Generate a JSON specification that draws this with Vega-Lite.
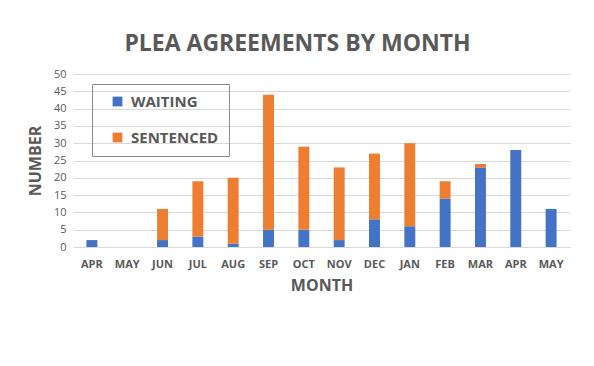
{
  "$schema": "https://vega.github.io/schema/vega-lite/v6.json",
  "width": 497,
  "height": 173,
  "autosize": {"type": "none"},
  "padding": {"left": 73, "top": 74, "right": 24, "bottom": 119},
  "background": "white",
  "title": {
    "text": "PLEA AGREEMENTS BY MONTH",
    "font": "Open Sans",
    "fontSize": 23,
    "fontWeight": "bold",
    "color": "#595959",
    "anchor": "middle",
    "offset": 12,
    "dx": -24
  },
  "data": {
    "values": [
      {"m": "APR-1", "series": "WAITING", "n": 2}, {"m": "APR-1", "series": "SENTENCED", "n": 0},
      {"m": "MAY-1", "series": "WAITING", "n": 0}, {"m": "MAY-1", "series": "SENTENCED", "n": 0},
      {"m": "JUN", "series": "WAITING", "n": 2}, {"m": "JUN", "series": "SENTENCED", "n": 9},
      {"m": "JUL", "series": "WAITING", "n": 3}, {"m": "JUL", "series": "SENTENCED", "n": 16},
      {"m": "AUG", "series": "WAITING", "n": 1}, {"m": "AUG", "series": "SENTENCED", "n": 19},
      {"m": "SEP", "series": "WAITING", "n": 5}, {"m": "SEP", "series": "SENTENCED", "n": 39},
      {"m": "OCT", "series": "WAITING", "n": 5}, {"m": "OCT", "series": "SENTENCED", "n": 24},
      {"m": "NOV", "series": "WAITING", "n": 2}, {"m": "NOV", "series": "SENTENCED", "n": 21},
      {"m": "DEC", "series": "WAITING", "n": 8}, {"m": "DEC", "series": "SENTENCED", "n": 19},
      {"m": "JAN", "series": "WAITING", "n": 6}, {"m": "JAN", "series": "SENTENCED", "n": 24},
      {"m": "FEB", "series": "WAITING", "n": 14}, {"m": "FEB", "series": "SENTENCED", "n": 5},
      {"m": "MAR", "series": "WAITING", "n": 23}, {"m": "MAR", "series": "SENTENCED", "n": 1},
      {"m": "APR-2", "series": "WAITING", "n": 28}, {"m": "APR-2", "series": "SENTENCED", "n": 0},
      {"m": "MAY-2", "series": "WAITING", "n": 11}, {"m": "MAY-2", "series": "SENTENCED", "n": 0}
    ]
  },
  "mark": {"type": "bar"},
  "encoding": {
    "x": {
      "field": "m",
      "type": "nominal",
      "sort": null,
      "scale": {"paddingInner": 0.69, "paddingOuter": 0.38},
      "axis": {
        "title": "MONTH",
        "labelExpr": "slice(datum.value, 0, 3)",
        "labelAngle": 0,
        "labelFont": "Open Sans",
        "labelFontSize": 11,
        "labelFontWeight": "bold",
        "labelColor": "#595959",
        "labelPadding": 11,
        "ticks": false,
        "tickSize": 0,
        "domain": false,
        "titleFont": "Open Sans",
        "titleFontSize": 16,
        "titleFontWeight": "bold",
        "titleColor": "#595959",
        "titlePadding": 8
      }
    },
    "y": {
      "field": "n",
      "type": "quantitative",
      "stack": "zero",
      "scale": {"domain": [0, 50], "nice": false},
      "axis": {
        "title": "NUMBER",
        "values": [0, 5, 10, 15, 20, 25, 30, 35, 40, 45, 50],
        "labelFont": "Open Sans",
        "labelFontSize": 11,
        "labelColor": "#595959",
        "labelPadding": 7,
        "ticks": false,
        "tickSize": 0,
        "domain": false,
        "grid": true,
        "gridColor": "#d9d9d9",
        "gridWidth": 1,
        "titleFont": "Open Sans",
        "titleFontSize": 16,
        "titleFontWeight": "bold",
        "titleColor": "#595959",
        "titlePadding": 10
      }
    },
    "color": {
      "field": "series",
      "type": "nominal",
      "scale": {"domain": ["WAITING", "SENTENCED"], "range": ["#4472c4", "#ed7d31"]},
      "legend": {
        "title": null,
        "orient": "none",
        "legendX": 19,
        "legendY": 10,
        "direction": "vertical",
        "symbolType": "square",
        "symbolSize": 95,
        "symbolStrokeWidth": 0,
        "symbolOffset": 8,
        "labelFont": "Open Sans",
        "labelFontSize": 15,
        "labelFontWeight": "bold",
        "labelColor": "#595959",
        "labelOffset": 6,
        "rowPadding": 20,
        "padding": 10,
        "strokeColor": "#8c8c8c"
      }
    },
    "order": {"field": "series", "sort": "descending"}
  },
  "config": {"view": {"stroke": null}}
}
